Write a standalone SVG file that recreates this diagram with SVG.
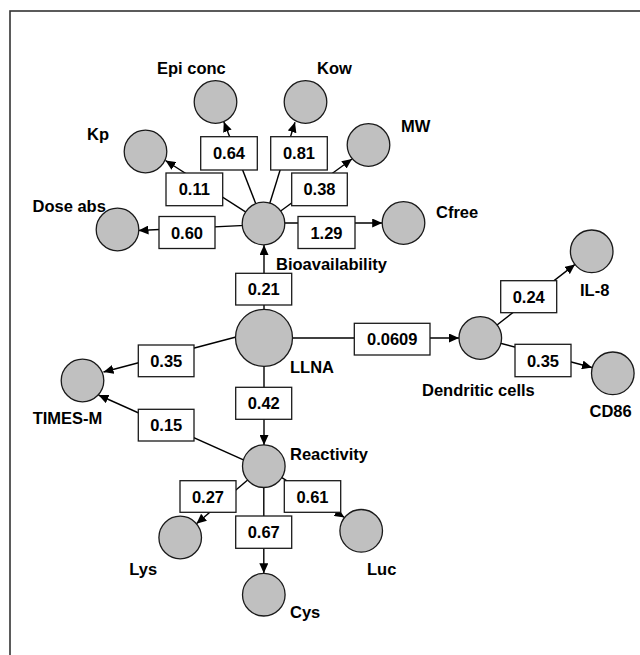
<svg xmlns="http://www.w3.org/2000/svg" width="640" height="655" viewBox="0 0 640 655">
<style>
.n{fill:#c0c0c0;stroke:#1a1a1a;stroke-width:1.3}
.b{fill:#fff;stroke:#1a1a1a;stroke-width:1.3}
.t{font-family:"Liberation Sans",Arial,sans-serif;font-weight:bold;font-size:16.5px;fill:#000}
.c{text-anchor:middle}
.e{stroke:#000;stroke-width:1.4;fill:none}
.a{marker-end:url(#arr)}
</style>
<defs>
<marker id="arr" markerUnits="userSpaceOnUse" markerWidth="11" markerHeight="9" refX="10" refY="4.5" orient="auto">
<path d="M0,0 L10,4.5 L0,9 z" fill="#000"/>
</marker>
</defs>
<rect x="0" y="0" width="640" height="655" fill="#fff"/>
<rect x="10" y="11" width="660" height="680" fill="none" stroke="#333" stroke-width="1.6"/>
<g id="connectors">
<line class="e a" x1="263.5" y1="223.5" x2="223.8" y2="121.8"/>
<line class="e a" x1="263.5" y1="223.5" x2="295" y2="122.3"/>
<line class="e a" x1="263.5" y1="223.5" x2="165.5" y2="160.5"/>
<line class="e a" x1="263.5" y1="223.5" x2="352" y2="159"/>
<line class="e a" x1="263.5" y1="224.5" x2="138.5" y2="230.5"/>
<line class="e a" x1="263.5" y1="223" x2="382.2" y2="223"/>
<line class="e a" x1="264" y1="309" x2="264" y2="245"/>
<line class="e a" x1="264" y1="338" x2="459" y2="338"/>
<line class="e a" x1="480.3" y1="338" x2="575" y2="264.4"/>
<line class="e a" x1="480.3" y1="338" x2="592" y2="367.5"/>
<line class="e a" x1="236" y1="337" x2="103.5" y2="372"/>
<line class="e a" x1="264" y1="366" x2="264" y2="445"/>
<line class="e a" x1="263.8" y1="469" x2="98.5" y2="395"/>
<line class="e a" x1="263.8" y1="466.2" x2="196.4" y2="523.7"/>
<line class="e a" x1="263.8" y1="466.2" x2="344.5" y2="517.5"/>
<line class="e a" x1="263.8" y1="487" x2="263.8" y2="573.3"/>
</g>
<g id="bioavailability"><circle class="n" cx="263.5" cy="223.5" r="21.3"/><text class="t" x="276" y="270">Bioavailability</text></g>
<g id="epiconc"><circle class="n" cx="215.5" cy="102" r="21.3"/><text class="t" x="157" y="73.5">Epi conc</text></g>
<g id="kow"><circle class="n" cx="305.5" cy="102" r="21.3"/><text class="t" x="317" y="74">Kow</text></g>
<g id="kp"><circle class="n" cx="145.5" cy="151.5" r="21.3"/><text class="t" x="87" y="139.5">Kp</text></g>
<g id="mw"><circle class="n" cx="368.5" cy="145" r="21.3"/><text class="t" x="401" y="132">MW</text></g>
<g id="doseabs"><circle class="n" cx="117.5" cy="229.5" r="21.3"/><text class="t" x="32.5" y="212">Dose abs</text></g>
<g id="cfree"><circle class="n" cx="403.5" cy="223" r="21.3"/><text class="t" x="436" y="217.5">Cfree</text></g>
<g id="llna"><circle class="n" cx="264" cy="337.8" r="28.5"/><text class="t" x="290" y="372.5">LLNA</text></g>
<g id="dendritic"><circle class="n" cx="480.3" cy="338" r="21.3"/><text class="t" x="422" y="396">Dendritic cells</text></g>
<g id="il8"><circle class="n" cx="591.7" cy="251.3" r="21.3"/><text class="t" x="580" y="295.5">IL-8</text></g>
<g id="cd86"><circle class="n" cx="612.8" cy="373.3" r="21.3"/><text class="t" x="589.5" y="416.5">CD86</text></g>
<g id="timesm"><circle class="n" cx="82.5" cy="380.5" r="21.3"/><text class="t" x="32.7" y="424">TIMES-M</text></g>
<g id="reactivity"><circle class="n" cx="263.8" cy="466.2" r="21.3"/><text class="t" x="290" y="460">Reactivity</text></g>
<g id="lys"><circle class="n" cx="180.2" cy="537.5" r="21.3"/><text class="t" x="129.3" y="575">Lys</text></g>
<g id="luc"><circle class="n" cx="361.2" cy="530.8" r="21.3"/><text class="t" x="367" y="575">Luc</text></g>
<g id="cys"><circle class="n" cx="263.8" cy="594.7" r="21.3"/><text class="t" x="290" y="617.5">Cys</text></g>
<g id="labels">
<rect class="b" x="200.7" y="136.7" width="56.6" height="33.3"/><text class="t c" x="229" y="159.3">0.64</text>
<rect class="b" x="270.7" y="136.7" width="56.6" height="33.3"/><text class="t c" x="299" y="159.3">0.81</text>
<rect class="b" x="166" y="173" width="56.7" height="32.7"/><text class="t c" x="194.3" y="195.3">0.11</text>
<rect class="b" x="291.7" y="173" width="55.6" height="32.7"/><text class="t c" x="319.5" y="195.3">0.38</text>
<rect class="b" x="159" y="216.5" width="56" height="32"/><text class="t c" x="187" y="238.5">0.60</text>
<rect class="b" x="298" y="216.5" width="57" height="32"/><text class="t c" x="326.5" y="238.5">1.29</text>
<rect class="b" x="235.7" y="273.3" width="56" height="31.7"/><text class="t c" x="263.7" y="295.1">0.21</text>
<rect class="b" x="354.3" y="323.3" width="75.7" height="31.7"/><text class="t c" x="392.2" y="345.1">0.0609</text>
<rect class="b" x="500.7" y="280.7" width="56" height="32"/><text class="t c" x="528.7" y="302.7">0.24</text>
<rect class="b" x="515" y="344.3" width="56" height="32.4"/><text class="t c" x="543" y="366.5">0.35</text>
<rect class="b" x="138.3" y="345" width="55.7" height="31.7"/><text class="t c" x="166.2" y="366.8">0.35</text>
<rect class="b" x="235.7" y="387.3" width="56" height="32"/><text class="t c" x="263.7" y="409.3">0.42</text>
<rect class="b" x="138.3" y="409.3" width="55.7" height="31.7"/><text class="t c" x="166.2" y="431.1">0.15</text>
<rect class="b" x="180" y="480.7" width="56" height="31.6"/><text class="t c" x="208" y="502.5">0.27</text>
<rect class="b" x="284.3" y="480.7" width="56.4" height="31.6"/><text class="t c" x="312.5" y="502.5">0.61</text>
<rect class="b" x="235.7" y="516" width="56" height="32.3"/><text class="t c" x="263.7" y="538.2">0.67</text>
</g>
</svg>
